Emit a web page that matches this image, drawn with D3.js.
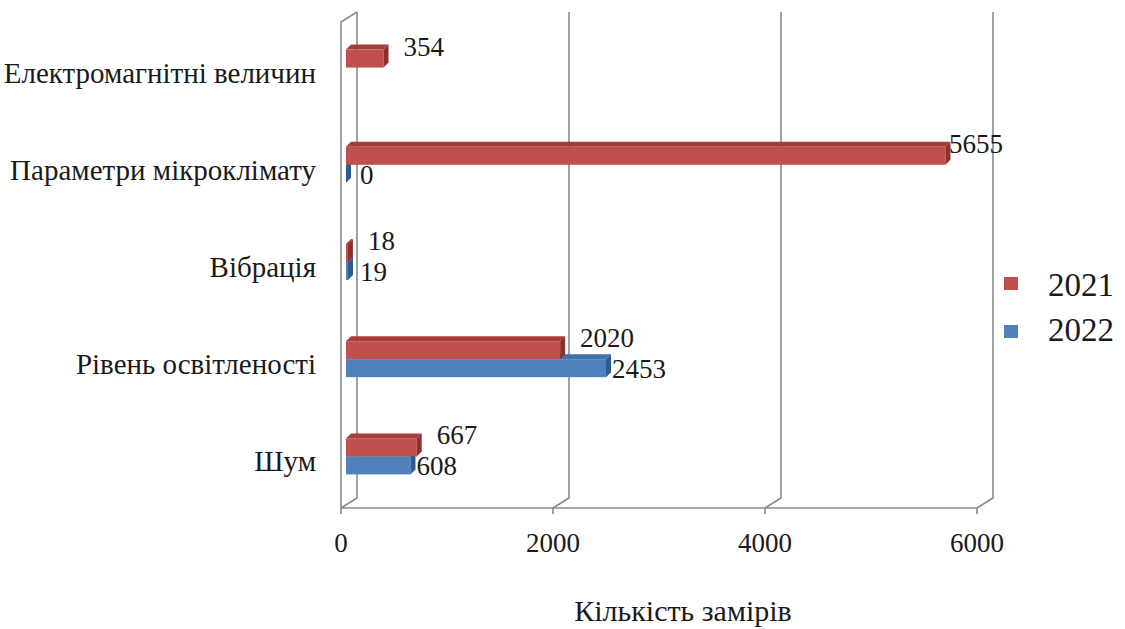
<!DOCTYPE html>
<html>
<head>
    <meta charset="UTF-8">
</head>
<body style="margin:0">
    <svg id="chart" width="1125" height="629"></svg>
    <script src="https://d3js.org/d3.v7.min.js"></script>
    <script>
        var categories = ["Електромагнітні величин", "Параметри мікроклімату", "Вібрація", "Рівень освітленості", "Шум"];
        var values2021 = [354, 5655, 18, 2020, 667];
        var values2022 = [null, 0, 19, 2453, 608];
        var seriesNames = ["2021", "2022"];
        var xTicks = [0, 2000, 4000, 6000];
        var axisTitle = "Кількість замірів";

        var svg = d3.select("#chart");
        var fontName = "Liberation Serif";
        var textColor = "#1a1a1a";

        var x = d3.scaleLinear().domain([0, 6000]).range([341, 977]);
        var y = d3.scaleBand().domain(categories).range([22, 508]);
        var floorY = 508, topY = 22;
        var wall = { dx: 16, dy: -10 };   // depth of the walls
        var barShift = { dx: 5, dy: -3 }; // bars sit a little behind the front
        var barDepth = { dx: 5, dy: -5 };
        var barH = 18;
        var gridColor = "#8a8a8a";

        var colors = [
            { front: "#c0504d", top: "#a53d3b", end: "#8e2f2d" },
            { front: "#4f81bd", top: "#4372aa", end: "#2e5b90" }
        ];

        function label(sel, size) {
            return sel.attr("font-family", fontName)
                .attr("font-size", size)
                .style("font-family", fontName, "important")
                .attr("fill", textColor);
        }

        // walls and floor
        var g = svg.append("g").attr("fill", "none").attr("stroke", gridColor).attr("stroke-width", 1.6);
        g.append("line").attr("x1", x(0)).attr("x2", x(6000)).attr("y1", floorY).attr("y2", floorY);
        g.append("polyline").attr("points", [
            [x(0), floorY], [x(0), topY], [x(0) + wall.dx, topY + wall.dy]
        ].join(" "));
        g.selectAll(".grid").data(xTicks).enter().append("polyline")
            .attr("class", "grid")
            .attr("points", function(d) {
                return [
                    [x(d), floorY], [x(d) + wall.dx, floorY + wall.dy], [x(d) + wall.dx, topY + wall.dy]
                ].join(" ");
            });
        g.selectAll(".tick").data(xTicks).enter().append("line")
            .attr("x1", function(d) { return x(d); }).attr("x2", function(d) { return x(d); })
            .attr("y1", floorY).attr("y2", floorY + 6);

        label(svg.selectAll(".tlabel").data(xTicks).enter().append("text"), 27)
            .attr("x", function(d) { return x(d); })
            .attr("y", 552)
            .attr("text-anchor", "middle")
            .text(function(d) { return d; });

        // category labels
        label(svg.selectAll(".clabel").data(categories).enter().append("text"), 29)
            .attr("x", 316)
            .attr("y", function(d) { return y(d) + y.bandwidth() / 2 + 12; })
            .attr("text-anchor", "end")
            .text(function(d) { return d; });

        // bars, 2022 first so 2021 covers its top face
        var series = [values2021, values2022];
        var labelSize = 27;
        [1, 0].forEach(function(s) {
            var c = colors[s];
            series[s].forEach(function(v, i) {
                if (v === null) return;
                var cy = y(categories[i]) + y.bandwidth() / 2 + barShift.dy;
                var y0 = s === 0 ? cy - barH : cy;
                var y1 = y0 + barH;
                var xa = x(0) + barShift.dx, xb = x(v) + barShift.dx;
                var bg = svg.append("g");
                bg.append("polygon").attr("fill", c.top).attr("points", [
                    [xa, y0], [xa + barDepth.dx, y0 + barDepth.dy], [xb + barDepth.dx, y0 + barDepth.dy], [xb, y0]
                ].join(" "));
                bg.append("rect").attr("fill", c.front)
                    .attr("x", xa).attr("y", y0).attr("width", xb - xa).attr("height", barH);
                bg.append("polygon").attr("fill", c.end).attr("points", [
                    [xb, y0], [xb + barDepth.dx, y0 + barDepth.dy], [xb + barDepth.dx, y1 + barDepth.dy], [xb, y1]
                ].join(" "));

                // value label, kept inside the plot's right edge (digits are half an em wide)
                var gap = s === 0 ? 20 : 6;
                var w = String(v).length * labelSize * 0.5;
                var lx = Math.max(xb + gap, x(0) + 19);
                lx = Math.min(lx, x(6000) + wall.dx + 10 - w);
                var ly = s === 0 ? cy - barH / 2 - 12 : cy + barH / 2 + 1;
                label(svg.append("text"), labelSize)
                    .attr("x", lx)
                    .attr("y", ly + 9)
                    .text(v);
            });
        });

        // legend
        var legend = svg.append("g");
        seriesNames.forEach(function(name, i) {
            legend.append("rect")
                .attr("x", 1004).attr("y", 277 + i * 48)
                .attr("width", 14).attr("height", 13)
                .attr("fill", colors[i].front);
            label(legend.append("text"), 33)
                .attr("x", 1048).attr("y", 296 + i * 45)
                .text(name);
        });

        // axis title
        label(svg.append("text"), 30)
            .attr("x", 683).attr("y", 621)
            .attr("text-anchor", "middle")
            .text(axisTitle);
    </script>
</body>
</html>
